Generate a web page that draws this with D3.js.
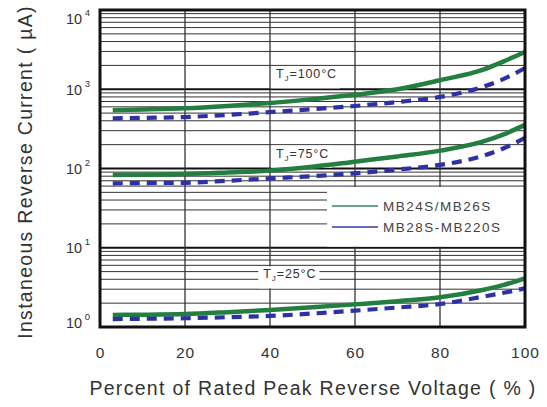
<!DOCTYPE html>
<html>
<head>
<meta charset="utf-8">
<script src="https://cdn.jsdelivr.net/npm/d3@7"></script>
<style>
  body { margin: 0; background: #fff; }
  text { font-family: "Liberation Sans", Arial, sans-serif; }
</style>
</head>
<body>
<svg id="chart" width="547" height="407"></svg>
<script>
// percent of rated peak reverse voltage
const pct = [3, 10, 20, 30, 40, 50, 60, 70, 80, 90, 95, 100];
// reverse current (uA)
const green100 = [545, 555, 575, 615, 670, 750, 850, 1000, 1300, 1750, 2250, 2950];
const blue100  = [430, 435, 446, 475, 515, 560, 615, 690, 800, 1070, 1350, 1850];
const green75  = [83, 83.5, 85, 89, 94, 105, 122, 142, 168, 218, 270, 355];
const blue75   = [65, 65.5, 66, 70, 75, 80, 87, 97, 111, 144, 180, 243];
const green25  = [1.42, 1.43, 1.46, 1.54, 1.64, 1.77, 1.93, 2.12, 2.37, 2.93, 3.4, 4.12];
const blue25   = [1.26, 1.27, 1.29, 1.33, 1.38, 1.48, 1.61, 1.76, 1.95, 2.41, 2.7, 3.08];

const xTicks = [0, 20, 40, 60, 80, 100];
const decades = [1, 10, 100, 1000, 10000];
const tempLabels = [
    {temp: "100°C", at: 40, value: 2000},
    {temp: "75°C", at: 40, value: 200},
    {temp: "25°C", at: 37, value: 6}
];
const legendNames = ["MB24S/MB26S", "MB28S-MB220S"];

const GREEN = "#237f3f";
const BLUE = "#2e31a6";
const TEXT = "#333";

const plotLeft = 100, plotRight = 525, plotTop = 10, plotBottom = 327;
const svg = d3.select("#chart");

const x = d3.scaleLinear().domain([0, 100]).range([plotLeft, plotRight]);
const y = d3.scaleLog().domain([1, 10000]).range([plotBottom, plotTop]);

// horizontal grid
let grid = svg.append("g");
y.ticks().forEach(v => {
    let isDecade = decades.indexOf(v) >= 0;
    grid.append("line")
        .attr("x1", plotLeft).attr("x2", plotRight)
        .attr("y1", y(v)).attr("y2", y(v))
        .attr("stroke", isDecade ? "#111" : "#333")
        .attr("stroke-width", isDecade ? 2.2 : 1);
});
// vertical grid
[20, 40, 60, 80].forEach(v => {
    grid.append("line")
        .attr("x1", x(v)).attr("x2", x(v))
        .attr("y1", plotTop).attr("y2", plotBottom)
        .attr("stroke", "#333")
        .attr("stroke-width", 1.3);
});

// white legend area
svg.append("rect")
    .attr("x", 327).attr("y", 187)
    .attr("width", plotRight - 327 - 1).attr("height", y(10) - 187 - 1.2)
    .attr("fill", "#fff");

// temperature labels with white boxes (under the curves)
tempLabels.forEach(t => {
    let g = svg.append("g");
    let txt = g.append("text")
        .attr("x", x(t.at) + 6)
        .attr("y", y(t.value) + 13)
        .attr("font-size", 12.5)
        .attr("letter-spacing", 0.9)
        .attr("fill", TEXT);
    txt.append("tspan").text("T");
    txt.append("tspan").attr("font-size", 8).attr("dy", 3).text("J");
    txt.append("tspan").attr("dy", -3).text("=" + t.temp);
    let bb = txt.node().getBBox();
    g.insert("rect", "text")
        .attr("x", bb.x - 5).attr("y", y(t.value) + 1)
        .attr("width", bb.width + 8).attr("height", 22)
        .attr("fill", "#fff");
});

// curves
let line = d3.line()
    .x((d, i) => x(pct[i]))
    .y(d => y(d))
    .curve(d3.curveMonotoneX);

[green100, green75, green25].forEach(s => {
    svg.append("path").attr("d", line(s))
        .attr("fill", "none").attr("stroke", GREEN).attr("stroke-width", 4.5);
});
[blue100, blue75, blue25].forEach(s => {
    svg.append("path").attr("d", line(s))
        .attr("fill", "none").attr("stroke", BLUE).attr("stroke-width", 4.2)
        .attr("stroke-dasharray", "10,7");
});

// legend
legendNames.forEach((name, i) => {
    let ly = 206 + i * 21;
    svg.append("line")
        .attr("x1", 332).attr("x2", 378)
        .attr("y1", ly).attr("y2", ly)
        .attr("stroke", i === 0 ? "#3b7f6f" : "#3a3aa6")
        .attr("stroke-width", 1.3);
    svg.append("text")
        .attr("x", 383).attr("y", ly + 5)
        .attr("font-size", 13.5)
        .attr("letter-spacing", 1.5)
        .attr("fill", "#444")
        .text(name);
});

// frame
svg.append("rect")
    .attr("x", plotLeft).attr("y", plotTop)
    .attr("width", plotRight - plotLeft).attr("height", plotBottom - plotTop)
    .attr("fill", "none").attr("stroke", "#111").attr("stroke-width", 3);

// x axis
let xAxis = svg.append("g")
    .attr("transform", `translate(0,${plotBottom + 17})`)
    .call(d3.axisBottom(x).tickValues(xTicks).tickSize(0).tickFormat(d3.format("d")));
xAxis.select(".domain").remove();
xAxis.selectAll("text")
    .attr("font-size", 15.5).attr("fill", TEXT)
    .attr("letter-spacing", 1)
    .attr("font-family", "Liberation Sans, Arial, sans-serif");

// y axis labels 10^n
decades.forEach((v, i) => {
    let ty = Math.min(Math.max(y(v), 18), 322);
    let t = svg.append("text")
        .attr("x", 66).attr("y", ty + 5.5)
        .attr("font-size", 14.5).attr("fill", TEXT);
    t.append("tspan").text("10");
    t.append("tspan").attr("font-size", 9.5).attr("dy", -8).attr("dx", 2.5).text(i);
});

// axis titles
svg.append("text")
    .attr("x", 313).attr("y", 395)
    .attr("text-anchor", "middle")
    .attr("font-size", 19.5).attr("fill", TEXT)
    .attr("letter-spacing", 1.3)
    .text("Percent of Rated Peak Reverse Voltage ( % )");

svg.append("text")
    .attr("transform", "translate(32,172) rotate(-90)")
    .attr("text-anchor", "middle")
    .attr("font-size", 19.5).attr("fill", TEXT)
    .attr("letter-spacing", 1.3)
    .text("Instaneous Reverse Current ( µA)");
</script>
</body>
</html>
